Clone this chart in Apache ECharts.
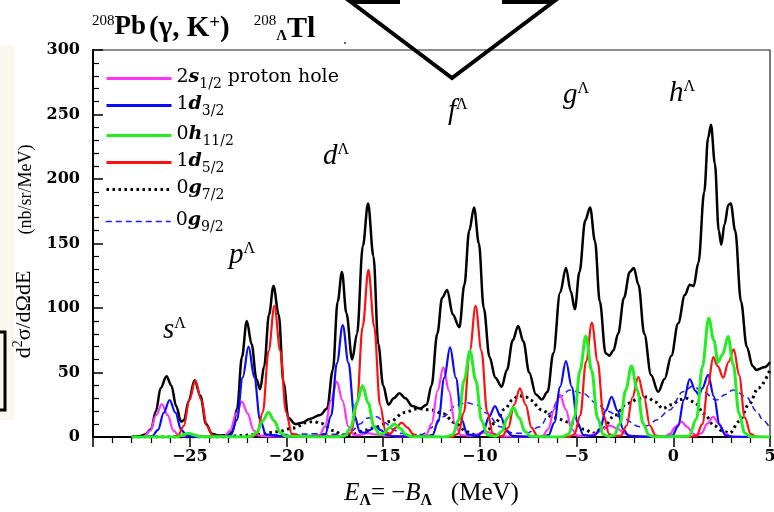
<!DOCTYPE html>
<html>
<head>
<meta charset="utf-8">
<script src="https://cdn.jsdelivr.net/npm/echarts@6/dist/echarts.min.js"></script>
<style>
html,body{margin:0;padding:0;background:#fff;}
#chart{width:774px;height:512px;}
</style>
</head>
<body>
<div id="chart"></div>
<script>
// ---------- data ----------
const xTicks = [-25, -20, -15, -10, -5, 0, 5];
const yTicks = [0, 50, 100, 150, 200, 250, 300];

const totalData = [[-28,0],[-27.6,0.5],[-27.3,2],[-27.0,6],[-26.75,20],[-26.5,38],[-26.2,47],[-25.95,40],[-25.7,24],[-25.45,12],[-25.3,13],[-25.05,28],[-24.75,44],[-24.45,32],[-24.15,10],[-23.85,2.5],[-23.5,1.2],[-23.0,1.5],[-22.8,4],[-22.55,22],[-22.3,62],[-22.05,90],[-21.8,72],[-21.55,45],[-21.36,37],[-21.15,55],[-20.9,95],[-20.67,117],[-20.4,95],[-20.15,42],[-19.9,15],[-19.55,10],[-19.2,11],[-18.8,14],[-18.26,17],[-17.9,22],[-17.6,52],[-17.35,105],[-17.13,128],[-16.9,96],[-16.6,60],[-16.35,80],[-16.05,148],[-15.78,181],[-15.5,140],[-15.25,72],[-15.0,40],[-14.73,25],[-14.45,30],[-14.16,34],[-13.85,30],[-13.5,24],[-13.09,22],[-12.75,25],[-12.5,40],[-12.2,80],[-11.95,108],[-11.69,114],[-11.4,95],[-11.06,85],[-10.8,118],[-10.55,160],[-10.3,178],[-10.05,150],[-9.8,100],[-9.5,62],[-9.2,46],[-8.87,39],[-8.6,52],[-8.3,75],[-8.02,86],[-7.75,74],[-7.45,50],[-7.1,33],[-6.8,29],[-6.5,35],[-6.2,65],[-5.85,112],[-5.55,131],[-5.3,113],[-5.09,99],[-4.85,128],[-4.55,168],[-4.3,178],[-4.05,152],[-3.8,105],[-3.5,65],[-3.3,63],[-3.1,67],[-2.85,80],[-2.55,108],[-2.25,128],[-2.04,131],[-1.8,118],[-1.5,80],[-1.15,48],[-0.78,35],[-0.45,45],[-0.1,63],[0.25,88],[0.6,110],[0.85,118],[1.05,117],[1.3,135],[1.6,190],[1.8,232],[1.95,242],[2.15,212],[2.35,160],[2.48,149],[2.65,165],[2.85,180],[2.97,181],[3.2,160],[3.5,105],[3.8,70],[4.1,55],[4.3,52],[4.7,54],[5,58]];

const s12Data = [[-28,0],[-27.4,0],[-27.04,4.9],[-26.74,16.9],[-26.44,25.6],[-26.14,16.9],[-25.84,4.9],[-25.54,0.8],[-25.2,1],[-24.9,2],[-24.6,1],[-24.2,0.2],[-23.5,0],[-23.2,0.7],[-22.9,5.2],[-22.6,18.1],[-22.3,27.4],[-22.0,18.1],[-21.7,5.2],[-21.4,1],[-21.0,0.5],[-19.5,0.5],[-18.6,0.5],[-18.3,1.2],[-18.0,8.2],[-17.7,28.3],[-17.4,42.9],[-17.1,28.3],[-16.8,8.2],[-16.5,1.5],[-16.2,1.5],[-15.8,3],[-15.4,2],[-14.8,1],[-14.0,0.5],[-13.1,0.3],[-12.79,1.3],[-12.49,10.3],[-12.19,35.6],[-11.89,54],[-11.59,35.6],[-11.29,10.3],[-10.99,1.5],[-10.5,0.8],[-10.0,2.5],[-9.65,4],[-9.3,2.5],[-8.9,0.5],[-7.5,0.3],[-6.76,0.8],[-6.46,6.2],[-6.16,21.5],[-5.86,32.6],[-5.56,21.5],[-5.26,6.2],[-4.96,1],[-4.4,0.8],[-4.0,2.6],[-3.6,6.6],[-3.28,8.8],[-2.9,6.6],[-2.5,2.6],[-2.1,0.6],[-1.2,0.2],[-0.48,0.3],[-0.18,2.3],[0.12,7.9],[0.42,11.9],[0.72,7.9],[1.02,2.6],[1.2,1],[1.46,3],[1.76,10.4],[2.06,15.7],[2.36,10.4],[2.66,3],[2.96,0.5],[3.5,0],[5,0]];

const d32Data = [[-28,0],[-27.3,0],[-26.94,0.7],[-26.64,5.5],[-26.34,18.9],[-26.04,28.7],[-25.74,18.9],[-25.44,5.5],[-25.14,0.8],[-24.5,0.2],[-23.2,0.3],[-22.86,1.7],[-22.56,13.3],[-22.26,46.2],[-21.96,70],[-21.66,46.2],[-21.36,13.3],[-21.06,2],[-20.5,0.8],[-19,0.8],[-18.3,0.8],[-17.99,2.3],[-17.69,16.5],[-17.39,57.3],[-17.09,86.8],[-16.79,57.3],[-16.49,16.5],[-16.19,3.5],[-15.9,3.5],[-15.7,5.3],[-15.42,8],[-15.12,5.3],[-14.82,1.8],[-14.5,0.6],[-13.2,0.5],[-12.74,0.6],[-12.44,1.7],[-12.14,13.2],[-11.84,45.9],[-11.54,69.5],[-11.24,45.9],[-10.94,13.2],[-10.64,2],[-10.12,0.8],[-9.82,4.6],[-9.52,15.8],[-9.22,24],[-8.92,15.8],[-8.62,4.6],[-8.32,0.8],[-7.5,0.2],[-6.75,0.3],[-6.45,1.4],[-6.15,11.2],[-5.85,38.9],[-5.55,58.9],[-5.25,38.9],[-4.95,11.2],[-4.65,1.6],[-4.35,0.9],[-4.09,1],[-3.79,5.9],[-3.49,20.6],[-3.19,31.2],[-2.89,20.6],[-2.59,5.9],[-2.29,0.8],[-1.2,0.1],[-0.35,0.2],[-0.05,1.1],[0.25,8.4],[0.55,29],[0.85,44.8],[1.15,35.8],[1.33,32.5],[1.5,37.7],[1.8,48.2],[2.1,31.4],[2.4,9],[2.7,1.3],[3.1,0.2],[5,0]];

const h112Data = [[-28,0],[-25.66,0],[-25.36,1.5],[-25.06,3],[-24.76,1.5],[-24.46,0.2],[-22.2,0],[-21.83,0.5],[-21.53,3.6],[-21.23,12.6],[-20.93,19.1],[-20.63,12.6],[-20.33,3.6],[-20.03,0.5],[-17.4,0],[-16.97,1],[-16.67,7.6],[-16.37,26.3],[-16.07,39.8],[-15.77,26.3],[-15.47,7.6],[-15.17,2],[-14.95,3],[-14.72,6.7],[-14.42,10],[-14.12,6.6],[-13.82,1.9],[-13.52,0.2],[-11.8,0],[-11.41,1.6],[-11.11,12.7],[-10.81,44],[-10.51,66.7],[-10.21,44],[-9.91,12.7],[-9.61,1.6],[-9.17,0.6],[-8.87,4.3],[-8.57,15],[-8.27,22.7],[-7.97,15],[-7.67,4.3],[-7.37,0.5],[-5.8,0],[-5.42,1.9],[-5.12,14.9],[-4.82,51.7],[-4.52,78.3],[-4.22,51.7],[-3.92,14.9],[-3.62,1.9],[-3.35,0.4],[-3.06,1.3],[-2.76,10.5],[-2.46,36.3],[-2.16,55],[-1.86,36.3],[-1.56,10.5],[-1.26,1.3],[-0.9,0.1],[0.8,0.6],[1.2,14],[1.5,54],[1.83,92],[2.1,75],[2.31,58],[2.55,64],[2.83,78],[3.1,56],[3.4,18],[3.7,3],[4,0.2],[5,0]];

const d52Data = [[-28,0],[-25.9,0],[-25.61,1.1],[-25.31,8.4],[-25.01,29],[-24.71,44],[-24.41,29],[-24.11,8.4],[-23.81,1.1],[-23.3,0],[-21.8,0],[-21.52,2.4],[-21.22,19.3],[-20.92,67],[-20.62,101.6],[-20.32,67],[-20.02,19.3],[-19.72,2.4],[-19.2,0.5],[-17.2,0.5],[-16.66,3.1],[-16.36,24.6],[-16.06,85.5],[-15.76,129.5],[-15.46,85.5],[-15.16,24.6],[-14.86,3.6],[-14.64,2.5],[-14.34,7.3],[-14.04,11.1],[-13.74,7.3],[-13.44,2.1],[-13.14,0.3],[-11.5,0],[-11.12,2.4],[-10.82,19.3],[-10.52,67],[-10.22,101.6],[-9.92,67],[-9.62,19.3],[-9.32,2.4],[-9.0,0.6],[-8.83,0.9],[-8.53,7.2],[-8.23,24.9],[-7.93,37.7],[-7.63,24.9],[-7.33,7.2],[-7.03,0.9],[-6.5,0],[-5.4,0],[-5.11,2.1],[-4.81,16.8],[-4.51,58.5],[-4.21,88.6],[-3.91,58.5],[-3.61,16.8],[-3.31,2.1],[-3.0,0.8],[-2.71,1.1],[-2.41,8.9],[-2.11,30.8],[-1.81,46.7],[-1.51,30.8],[-1.21,8.9],[-0.91,1.1],[-0.4,0],[0.8,0],[1.2,1],[1.5,10],[1.8,40],[2.06,62],[2.3,55],[2.58,46],[2.85,58],[3.13,68],[3.4,48],[3.7,15],[4.0,2.5],[4.3,0.2],[5,0]];

const g72Data = [[-28,0],[-23,0],[-22.5,1],[-21.5,2],[-20.5,4],[-19.6,7],[-19.0,11],[-18.6,12],[-18.2,10.5],[-17.6,5],[-17.07,1.5],[-16.6,2],[-16.0,5],[-15.3,8],[-14.64,12],[-13.9,19],[-13.2,22],[-12.5,21],[-11.89,18],[-11.3,11],[-10.68,4],[-10.2,1.5],[-9.7,4],[-9.2,11],[-8.7,22],[-8.3,29],[-8.0,32],[-7.6,31],[-7.41,28.7],[-6.8,21],[-6.2,15],[-5.17,10.6],[-4.6,6],[-4.16,3],[-3.7,6],[-3.0,17],[-2.4,26],[-1.73,30],[-1.38,31],[-0.9,27],[-0.55,22],[-0.1,25],[0.4,29],[0.68,30],[1.1,27],[1.6,18],[2.1,9],[2.5,5],[2.92,3],[3.4,12],[3.9,25],[4.4,38],[5,52]];

const g92Data = [[-28,0],[-22.5,0],[-21.5,1],[-20,2],[-18.5,2.5],[-17.5,2.2],[-17.07,2],[-16.6,5],[-16.2,10],[-15.85,14.5],[-15.33,15.7],[-14.9,11],[-14.5,6],[-14.13,3],[-13.6,1],[-13.0,2],[-12.4,8],[-11.89,15.7],[-11.2,24.8],[-10.68,26.6],[-10.17,24.8],[-9.65,18.4],[-8.96,8],[-8.27,2.9],[-7.6,3],[-6.9,8],[-6.38,18.4],[-5.86,31.2],[-5.35,36.4],[-4.66,33.9],[-3.97,26],[-3.4,20],[-2.76,15.7],[-1.73,8],[-1.3,9],[-0.87,13.2],[-0.19,20.9],[0.5,35.1],[1.02,39.5],[1.53,35.1],[2.23,28.7],[2.7,33],[3.09,36.4],[3.78,31.2],[4.3,20],[4.64,13.2],[5,6.7]];

const seriesNames = ['2s1/2 proton hole','1d3/2','0h11/2','1d5/2','0g7/2','0g9/2'];
const legendLabels = {
  '2s1/2 proton hole': '{n|2}{v|s}{sub|1/2}{n| proton hole}',
  '1d3/2': '{n|1}{v|d}{sub|3/2}',
  '0h11/2': '{n|0}{v|h}{sub|11/2}',
  '1d5/2': '{n|1}{v|d}{sub|5/2}',
  '0g7/2': '{n|0}{v|g}{sub|7/2}',
  '0g9/2': '{n|0}{v|g}{sub|9/2}'
};
const shellLabels = ['s','p','d','f','g','h'];

// ---------- styling ----------
const SERIF = '"Liberation Serif", "DejaVu Serif", serif';
const DJS = '"DejaVu Serif", serif';
const legendRich = {
  n: {fontFamily: DJS, fontSize: 19, color: '#000', lineHeight: 21, verticalAlign: 'top'},
  v: {fontFamily: DJS, fontSize: 19, fontWeight: 'bold', fontStyle: 'italic', color: '#000', lineHeight: 21, verticalAlign: 'top'},
  sub: {fontFamily: DJS, fontSize: 14, color: '#000', lineHeight: 14, padding: [9,0,0,0], verticalAlign: 'top'}
};
const legendTops = [68, 95, 125, 152, 179, 211];
const legendWidths = [3, 3, 3, 3, 3, 1.5];

const chart = echarts.init(document.getElementById('chart'), null, {renderer: 'canvas'});

function lineSeries(name, data, color, width, type, z) {
  return {
    name: name, type: 'line', data: data, smooth: 0.35, smoothMonotone: 'x',
    symbol: 'none', showSymbol: false, z: z,
    lineStyle: {color: color, width: width, type: type},
    itemStyle: {color: color}, emphasis: {disabled: true}, animation: false
  };
}

const labelRich = {
  i: {fontFamily: SERIF, fontSize: 29, fontStyle: 'italic', color: '#000', lineHeight: 30, verticalAlign: 'top'},
  s: {fontFamily: SERIF, fontSize: 16, color: '#000', lineHeight: 12, verticalAlign: 'top'}
};
const shellPos = [[163,316],[229,241],[323,142],[448,97],[563,81],[669,79]];

const titleRich = {
  sup: {fontFamily: SERIF, fontSize: 15, color: '#000', lineHeight: 15, verticalAlign: 'top'},
  b: {fontFamily: SERIF, fontSize: 27, fontWeight: 'bold', color: '#000', lineHeight: 30, verticalAlign: 'top'},
  m: {fontFamily: SERIF, fontSize: 29, fontWeight: 'bold', color: '#000', lineHeight: 30, verticalAlign: 'top'},
  sp: {fontFamily: SERIF, fontSize: 19, fontWeight: 'bold', color: '#000', lineHeight: 22, verticalAlign: 'top'},
  g1: {fontFamily: SERIF, fontSize: 15, width: 3, lineHeight: 15, verticalAlign: 'top'},
  g2: {fontFamily: SERIF, fontSize: 15, width: 24, lineHeight: 15, verticalAlign: 'top'},
  sub: {fontFamily: SERIF, fontSize: 15, fontWeight: 'bold', color: '#000', lineHeight: 14, verticalAlign: 'bottom'},
  tl: {fontFamily: SERIF, fontSize: 30, fontWeight: 'bold', color: '#000', lineHeight: 30, verticalAlign: 'top'}
};

const graphics = [
  {type: 'rect', left: 0, top: 45, shape: {width: 14, height: 375}, style: {fill: '#faf7ee'}, z: 0},
  {type: 'polyline', shape: {points: [[0,332],[5,332],[5,410],[0,410]]}, style: {stroke: '#000', lineWidth: 3, fill: null}, z: 10},
  {type: 'polyline', shape: {points: [[398,-6],[398,2],[351,2],[452,78],[553,2],[504,2],[504,-6]]}, style: {stroke: '#000', lineWidth: 4, fill: null, lineJoin: 'miter'}, z: 100},
  {type: 'text', left: 92, top: 14, z: 10, style: {text: '{sup|208}{b|Pb}{g1| }{m|(γ, K}{sp|+}{m|)}{g2| }{sup|208}{sub|Λ}{tl|Tl}', rich: titleRich}},
  {type: 'circle', shape: {cx: 345, cy: 43, r: 1}, style: {fill: '#333'}, z: 10}
];
shellLabels.forEach(function (l, i) {
  graphics.push({type: 'text', left: shellPos[i][0], top: shellPos[i][1], z: 10,
    style: {text: '{i|' + l + '}{s|Λ}', rich: labelRich}});
});

const legends = seriesNames.map(function (nm, i) {
  return {
    data: [nm], left: 105, top: legendTops[i], orient: 'vertical', padding: 0,
    itemWidth: 65, itemHeight: 14, itemGap: 5, selectedMode: false,
    itemStyle: {opacity: 0, borderWidth: 0},
    lineStyle: {width: legendWidths[i]},
    formatter: function (name) { return legendLabels[name]; },
    textStyle: {rich: legendRich}
  };
});

const option = {
  animation: false,
  backgroundColor: '#fff',
  grid: {left: 93, right: 4, top: 50, bottom: 75, show: true, borderColor: '#222', borderWidth: 1.2, backgroundColor: 'transparent', outerBoundsMode: 'none', containLabel: false},
  legend: legends,
  graphic: graphics,
  xAxis: {
    type: 'value', min: -30, max: 5, interval: 5,
    name: '{e|E}{s|Λ}{n|= −}{e|B}{s|Λ}{n|   (MeV)}', nameLocation: 'middle', nameGap: 44,
    nameTextStyle: {rich: {
      e: {fontFamily: SERIF, fontSize: 25, fontStyle: 'italic', color: '#000', lineHeight: 26, verticalAlign: 'top'},
      n: {fontFamily: SERIF, fontSize: 25, color: '#000', lineHeight: 26, verticalAlign: 'top'},
      s: {fontFamily: SERIF, fontSize: 16, fontWeight: 'bold', color: '#000', lineHeight: 16, padding: [12,0,0,0], verticalAlign: 'top'}
    }},
    axisLine: {show: true, onZero: false, lineStyle: {color: '#000', width: 2}},
    axisTick: {show: true, inside: false, length: 10, lineStyle: {color: '#000', width: 1.5}},
    minorTick: {show: true, splitNumber: 5, length: 6, lineStyle: {color: '#000', width: 1.2}},
    splitLine: {show: false}, minorSplitLine: {show: false},
    axisLabel: {
      margin: 12, fontFamily: DJS, fontWeight: 'bold', fontSize: 16, color: '#000',
      formatter: function (v) { if (xTicks.indexOf(v) < 0) return ''; return v < 0 ? '−' + Math.abs(v) : String(v); }
    }
  },
  yAxis: {
    type: 'value', min: 0, max: 300, interval: 50,
    name: '{a|d}{p|2}{a|σ/dΩdE}{b|        (nb/sr/MeV)}', nameLocation: 'middle', nameRotate: 90, nameGap: 55,
    nameTextStyle: {rich: {
      a: {fontFamily: SERIF, fontSize: 22, color: '#000', lineHeight: 24, verticalAlign: 'bottom'},
      p: {fontFamily: SERIF, fontSize: 14, color: '#000', lineHeight: 14, verticalAlign: 'top'},
      b: {fontFamily: SERIF, fontSize: 18, color: '#000', lineHeight: 20, verticalAlign: 'bottom', padding: [0, 16, 0, 0]}
    }},
    axisLine: {show: true, onZero: false, lineStyle: {color: '#000', width: 2}},
    axisTick: {show: true, inside: true, length: 10, lineStyle: {color: '#000', width: 1.5}},
    minorTick: {show: true, splitNumber: 5, length: 6, lineStyle: {color: '#000', width: 1.2}},
    splitLine: {show: false}, minorSplitLine: {show: false},
    axisLabel: {
      margin: 13, fontFamily: DJS, fontWeight: 'bold', fontSize: 16, color: '#000',
      formatter: function (v) { return yTicks.indexOf(v) >= 0 ? String(v) : ''; }
    }
  },
  series: [
    lineSeries('total', totalData, '#000', 2.5, 'solid', 2),
    lineSeries('0g7/2', g72Data, '#000', 3, [2.5, 3.5], 3),
    lineSeries('0g9/2', g92Data, '#1a1aff', 1.5, [6, 4], 3),
    lineSeries('2s1/2 proton hole', s12Data, '#ff33ff', 2.2, 'solid', 4),
    lineSeries('1d3/2', d32Data, '#0a0aff', 2.2, 'solid', 4),
    lineSeries('1d5/2', d52Data, '#ff1010', 2.2, 'solid', 4),
    lineSeries('0h11/2', h112Data, '#22ee22', 3, 'solid', 5)
  ]
};
chart.setOption(option);
</script>
</body>
</html>
